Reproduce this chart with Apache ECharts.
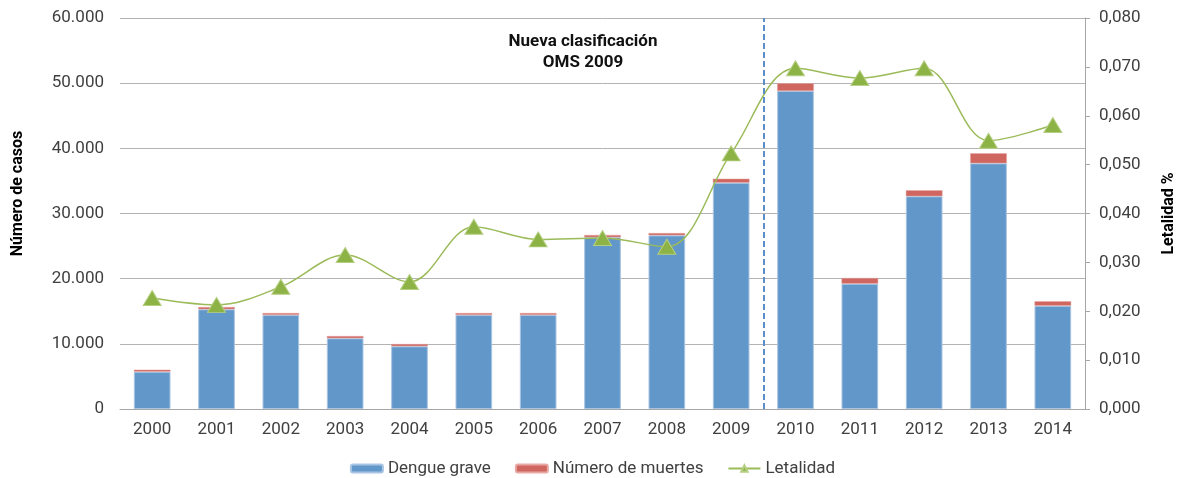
<!DOCTYPE html>
<html>
<head>
<meta charset="utf-8">
<script src="https://cdn.jsdelivr.net/npm/echarts@6/dist/echarts.min.js"></script>
<style>
  html, body { margin: 0; padding: 0; background: #fff; }
  #chart { width: 1185px; height: 478px; }
</style>
</head>
<body>
<div id="chart"></div>
<script>
const years = ["2000", "2001", "2002", "2003", "2004", "2005", "2006", "2007",
    "2008", "2009", "2010", "2011", "2012", "2013", "2014"];
const dengueGrave = [5720, 15300, 14420, 10850, 9620, 14420, 14420, 26350,
    26650, 34720, 48800, 19230, 32640, 37700, 15850];
const muertes = [310, 350, 310, 350, 350, 310, 310, 350,
    350, 620, 1180, 870, 920, 1540, 680];
const letalidad = [0.0227, 0.0213, 0.0250, 0.0315, 0.0260, 0.0373, 0.0347, 0.0350,
    0.0332, 0.0523, 0.0697, 0.0677, 0.0697, 0.0549, 0.0581];
const splitAt = 10; // boundary before 2010, in category slots

const font = "Roboto, 'Noto Sans', sans-serif";
const textColor = "#404040";

const chart = echarts.init(document.getElementById("chart"));

const option = {
    animation: false,
    textStyle: {fontFamily: font},
    grid: {left: 120, right: 96, top: 18, bottom: 69},
    graphic: [{
        type: "text",
        x: 583,
        y: 31,
        style: {
            text: "Nueva clasificación\nOMS 2009",
            fontFamily: font,
            fontSize: 17,
            fontWeight: "bold",
            fill: "#111",
            align: "center",
            lineHeight: 21,
        },
    }],
    legend: {
        bottom: -4,
        left: "center",
        itemWidth: 32,
        itemHeight: 8,
        itemGap: 24,
        textStyle: {fontFamily: font, fontSize: 17, color: textColor},
        data: ["Dengue grave", "Número de muertes", "Letalidad"],
    },
    xAxis: [
        {
            type: "category",
            data: years,
            axisTick: {show: false},
            axisLine: {lineStyle: {color: "#a6a6a6", width: 1}},
            axisLabel: {fontSize: 17, color: textColor, margin: 12},
        },
        {
            // helper axis in slot units, only used to place the dashed divider
            type: "value",
            min: 0,
            max: years.length,
            show: false,
        },
    ],
    yAxis: [
        {
            type: "value",
            min: 0,
            max: 60000,
            interval: 10000,
            name: "Número de casos",
            nameLocation: "middle",
            nameRotate: 90,
            nameGap: 94,
            nameTextStyle: {fontSize: 16, fontWeight: "bold", color: "#000", padding: [0, 0, 0, 40]},
            axisLine: {show: false},
            axisTick: {show: false},
            axisLabel: {
                fontSize: 17,
                color: textColor,
                margin: 16,
                formatter: (v) => v === 0 ? "0" : v.toLocaleString("de-DE"),
            },
            splitLine: {lineStyle: {color: "#b3b3b3", width: 1}},
        },
        {
            type: "value",
            min: 0,
            max: 0.08,
            interval: 0.01,
            position: "right",
            name: "Letalidad %",
            nameLocation: "middle",
            nameRotate: 90,
            nameGap: 76,
            nameTextStyle: {fontSize: 16, fontWeight: "bold", color: "#000"},
            axisLine: {show: true, lineStyle: {color: "#a6a6a6"}},
            axisTick: {show: true, length: 5, lineStyle: {color: "#a6a6a6"}},
            axisLabel: {
                fontSize: 17,
                color: textColor,
                margin: 14,
                formatter: (v) => v.toFixed(3).replace(".", ","),
            },
            splitLine: {show: false},
        },
    ],
    series: [
        {
            name: "Dengue grave",
            type: "bar",
            stack: "casos",
            barCategoryGap: "43%",
            data: dengueGrave,
            itemStyle: {color: "#6297c9", borderColor: "#a9c5e3", borderWidth: 1},
        },
        {
            name: "Número de muertes",
            type: "bar",
            stack: "casos",
            data: muertes,
            itemStyle: {color: "#cf6660", borderColor: "#e8a9a5", borderWidth: 0.5},
        },
        {
            name: "Letalidad",
            type: "line",
            yAxisIndex: 1,
            smooth: 0.35,
            data: letalidad,
            symbol: "triangle",
            symbolSize: [18, 15],
            lineStyle: {color: "#9bbb59", width: 1.5},
            itemStyle: {color: "#8db245", borderColor: "#b5cf82", borderWidth: 1},
        },
        {
            name: "divisor",
            type: "line",
            xAxisIndex: 1,
            yAxisIndex: 0,
            data: [],
            silent: true,
            markLine: {
                silent: true,
                symbol: "none",
                label: {show: false},
                lineStyle: {type: [6, 3], color: "#5b8fc9", width: 2},
                data: [{xAxis: splitAt}],
            },
        },
    ],
};

chart.setOption(option);
</script>
</body>
</html>
